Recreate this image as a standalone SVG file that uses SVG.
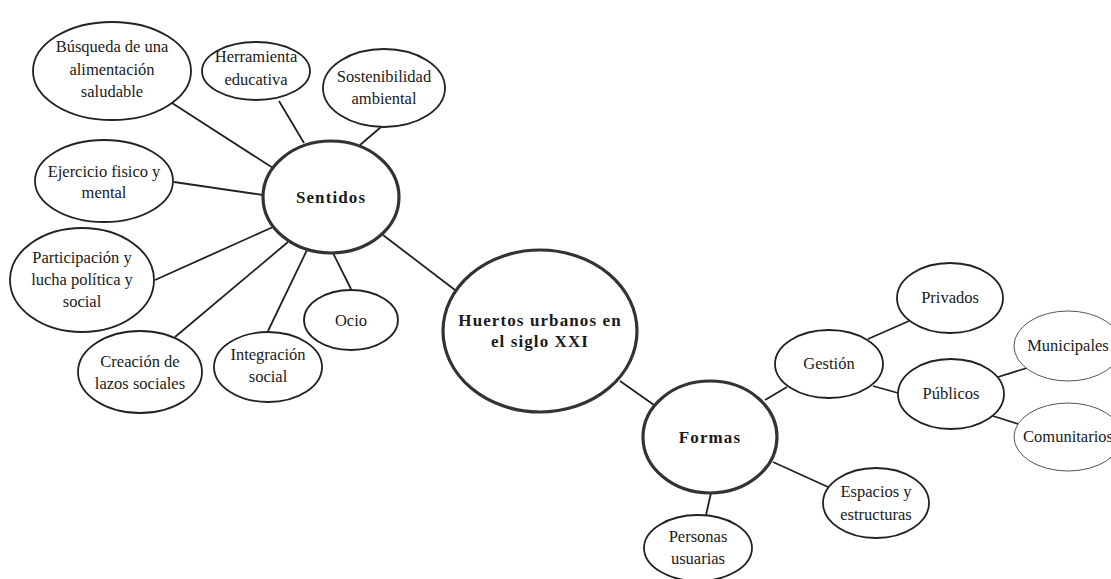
<svg xmlns="http://www.w3.org/2000/svg" width="1111" height="579" viewBox="0 0 1111 579">
<style>
.n{fill:#fff;stroke:#222;stroke-width:1.8}
.c{fill:#fff;stroke:#333;stroke-width:3.2}
.t{fill:#fff;stroke:#555;stroke-width:1}
text{font-family:"Liberation Serif","Times New Roman",serif;font-size:16.5px;fill:#1a1a1a;text-anchor:middle}
text.b{font-weight:bold;font-size:17px;letter-spacing:1.1px}
#connectors line{stroke:#222;stroke-width:1.8}
</style>
<rect width="1111" height="579" fill="#fff"/>
<g id="connectors">
<line x1="172" y1="103" x2="273" y2="168"/>
<line x1="279" y1="101" x2="304" y2="143"/>
<line x1="381" y1="127" x2="360" y2="145"/>
<line x1="174" y1="182" x2="263" y2="195"/>
<line x1="155" y1="280" x2="273" y2="227"/>
<line x1="175" y1="337" x2="288" y2="242"/>
<line x1="268" y1="331" x2="307" y2="250"/>
<line x1="351" y1="289" x2="333" y2="253"/>
<line x1="383" y1="235" x2="455" y2="290"/>
<line x1="620" y1="381" x2="654" y2="405"/>
<line x1="765" y1="400" x2="787" y2="387"/>
<line x1="868" y1="339" x2="909" y2="321"/>
<line x1="873" y1="386" x2="898" y2="393"/>
<line x1="998" y1="377" x2="1027" y2="368"/>
<line x1="993" y1="416" x2="1018" y2="424"/>
<line x1="773" y1="462" x2="828" y2="487"/>
<line x1="711" y1="493" x2="706" y2="515"/>
</g>
<g id="busqueda"><ellipse class="n" cx="112" cy="71" rx="79" ry="49"/><text x="112" y="52">Búsqueda de una</text><text x="112" y="75">alimentación</text><text x="112" y="97">saludable</text></g>
<g id="herramienta"><ellipse class="n" cx="256" cy="71" rx="54" ry="29"/><text x="256" y="62">Herramienta</text><text x="256" y="85">educativa</text></g>
<g id="sostenibilidad"><ellipse class="n" cx="384" cy="88" rx="61" ry="39"/><text x="384" y="82">Sostenibilidad</text><text x="384" y="104">ambiental</text></g>
<g id="ejercicio"><ellipse class="n" cx="104" cy="181" rx="69" ry="41"/><text x="104" y="177">Ejercicio fisico y</text><text x="104" y="198">mental</text></g>
<g id="participacion"><ellipse class="n" cx="82" cy="280" rx="72" ry="52"/><text x="82" y="263">Participación y</text><text x="82" y="285">lucha política y</text><text x="82" y="307">social</text></g>
<g id="creacion"><ellipse class="n" cx="140" cy="372" rx="62" ry="41"/><text x="140" y="367">Creación de</text><text x="140" y="389">lazos sociales</text></g>
<g id="integracion"><ellipse class="n" cx="268" cy="367" rx="54" ry="35"/><text x="268" y="360">Integración</text><text x="268" y="382">social</text></g>
<g id="ocio"><ellipse class="n" cx="351" cy="320" rx="47" ry="30"/><text x="351" y="326">Ocio</text></g>
<g id="sentidos"><ellipse class="c" cx="331" cy="197" rx="68" ry="56"/><text class="b" x="331" y="203">Sentidos</text></g>
<g id="huertos"><ellipse class="c" cx="540" cy="331" rx="97" ry="81"/><text class="b" x="540" y="326">Huertos urbanos en</text><text class="b" x="540" y="347">el siglo XXI</text></g>
<g id="formas"><ellipse class="c" cx="710" cy="437" rx="67" ry="56"/><text class="b" x="710" y="443">Formas</text></g>
<g id="gestion"><ellipse class="n" cx="829" cy="364" rx="54" ry="34"/><text x="829" y="369">Gestión</text></g>
<g id="privados"><ellipse class="n" cx="950" cy="298" rx="53" ry="35"/><text x="950" y="303">Privados</text></g>
<g id="publicos"><ellipse class="n" cx="951" cy="394" rx="53" ry="35"/><text x="951" y="399">Públicos</text></g>
<g id="municipales"><ellipse class="t" cx="1068" cy="346" rx="54" ry="35"/><text x="1068" y="351">Municipales</text></g>
<g id="comunitarios"><ellipse class="t" cx="1068" cy="437" rx="54" ry="34"/><text x="1068" y="442">Comunitarios</text></g>
<g id="espacios"><ellipse class="n" cx="876" cy="503" rx="53" ry="35"/><text x="876" y="497">Espacios y</text><text x="876" y="520">estructuras</text></g>
<g id="personas"><ellipse class="n" cx="698" cy="548" rx="54" ry="33"/><text x="698" y="542">Personas</text><text x="698" y="564">usuarias</text></g>
</svg>
